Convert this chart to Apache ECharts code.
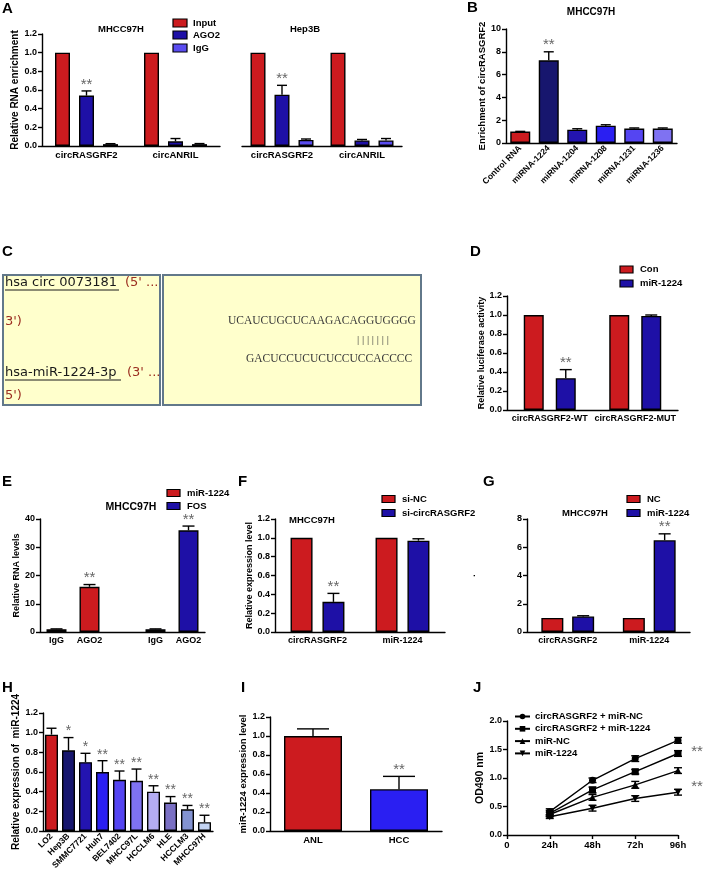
<!DOCTYPE html>
<html><head><meta charset="utf-8">
<script src="https://cdn.jsdelivr.net/npm/echarts@6/dist/echarts.min.js"></script>
<style>html,body{margin:0;padding:0;background:#fff}#c{width:707px;height:876px}</style>
</head><body><div id="c"></div>
<script>
// ================= DATA =================
// Panel A
const aCategories = ['circRASGRF2', 'circANRIL'];
const aGroupNames = ['Input', 'AGO2', 'IgG'];
const aMhccInput = [1.0, 1.0];
const aMhccAgo2 = [0.54, 0.05];
const aMhccIgg = [0.02, 0.02];
const aMhccAgo2Err = [0.05, 0.03];
const aMhccIggErr = [0.005, 0.006];
const aMhccStars = ['**', ''];
const aHepInput = [1.0, 1.0];
const aHepAgo2 = [0.55, 0.06];
const aHepIgg = [0.065, 0.06];
const aHepAgo2Err = [0.10, 0.01];
const aHepIggErr = [0.01, 0.02];
const aHepStars = ['**', ''];
// Panel B
const bCategories = ['Control RNA', 'miRNA-1224', 'miRNA-1204', 'miRNA-1208', 'miRNA-1231', 'miRNA-1236'];
const bValues = [1.0, 7.25, 1.17, 1.52, 1.27, 1.27];
const bErrors = [0.02, 0.75, 0.08, 0.08, 0.05, 0.05];
const bStars = ['', '**', '', '', '', ''];
// Panel C
const cCircName = 'hsa circ 0073181';
const cMirName = 'hsa-miR-1224-3p';
const cCircSeq = 'UCAUCUGCUCAAGACAGGUGGGG';
const cPairs = '| | | | | | |';
const cMirSeq = 'GACUCCUCUCUCCUCCACCCC';
// Panel D
const dCategories = ['circRASGRF2-WT', 'circRASGRF2-MUT'];
const dGroupNames = ['Con', 'miR-1224'];
const dCon = [1.0, 1.0];
const dMir = [0.335, 0.99];
const dMirErr = [0.09, 0.01];
const dStars = ['**', ''];
// Panel E
const eCategories = ['IgG', 'AGO2', '', 'IgG', 'AGO2'];
const eGroupNames = ['miR-1224', 'FOS'];
const eValues = [1.0, 16.0, null, 1.0, 36.0];
const eErrors = [0.1, 0.8, null, 0.1, 1.5];
const eGroupOf = [0, 0, null, 1, 1];
const eStars = ['', '**', '', '', '**'];
// Panel F
const fCategories = ['circRASGRF2', 'miR-1224'];
const fGroupNames = ['si-NC', 'si-circRASGRF2'];
const fSiNC = [1.0, 1.0];
const fSiCirc = [0.32, 0.97];
const fSiCircErr = [0.09, 0.02];
const fStars = ['**', ''];
// Panel G
const gCategories = ['circRASGRF2', 'miR-1224'];
const gGroupNames = ['NC', 'miR-1224'];
const gNC = [1.0, 1.0];
const gMir = [1.1, 6.5];
const gMirErr = [0.05, 0.45];
const gStars = ['', '**'];
// Panel H
const hCategories = ['LO2', 'Hep3B', 'SMMC7721', 'Huh7', 'BEL7402', 'MHCC97L', 'HCCLM6', 'HLE', 'HCCLM3', 'MHCC97H'];
const hValues = [0.98, 0.82, 0.70, 0.60, 0.52, 0.51, 0.40, 0.29, 0.22, 0.09];
const hErrors = [0.065, 0.13, 0.09, 0.115, 0.09, 0.12, 0.06, 0.06, 0.04, 0.07];
const hStars = ['', '*', '*', '**', '**', '**', '**', '**', '**', '**'];
// Panel I
const iCategories = ['ANL', 'HCC'];
const iValues = [1.0, 0.44];
const iErrors = [0.075, 0.135];
const iStars = ['', '**'];
// Panel J
const jTimes = [24, 48, 72, 96];
const jTickLabels = ['0', '24h', '48h', '72h', '96h'];
const jNames = ['circRASGRF2 + miR-NC', 'circRASGRF2 + miR-1224', 'miR-NC', 'miR-1224'];
const jCircNC = [0.41, 0.96, 1.34, 1.66];
const jCircMir = [0.38, 0.79, 1.11, 1.43];
const jMirNC = [0.36, 0.66, 0.88, 1.13];
const jMir = [0.32, 0.47, 0.64, 0.75];
const jCircNCErr = [0.05, 0.04, 0.05, 0.05];
const jCircMirErr = [0.05, 0.05, 0.04, 0.05];
const jMirNCErr = [0.04, 0.05, 0.06, 0.05];
const jMirErr = [0.03, 0.05, 0.05, 0.05];
const jStars = ['**', '**'];

// ================= STYLE =================
const FONT = '"Liberation Sans", Arial, sans-serif';
const RED = '#CC1B1F', DARKBLUE = '#1E10A6', LIGHTBLUE = '#5A4CF0';
const bColors = ['#CC1B1F', '#17166E', '#2314B0', '#2A1FF2', '#5545F2', '#7F72F2'];
const hColors = ['#CC1B1F', '#17166E', '#2314B0', '#2A1FF2', '#5545F2', '#7F72F2', '#B4ACF2', '#7A70C4', '#8393D2', '#C3D3F2'];
const eColors = [RED, DARKBLUE];
const iColors = [RED, '#2A1FF2'];
const AX = {color: '#000', width: 1.4};

const grids = [], xAxes = [], yAxes = [], series = [], graphics = [];

function fmt1(v) { return v.toFixed(1); }

function addPanel(p) {
  const gi = grids.length;
  grids.push({left: p.left, top: p.top, width: p.width, height: p.height});
  if (p.xValue) {
    xAxes.push({gridIndex: gi, type: 'value', min: p.xMin, max: p.xMax, interval: p.xInterval,
      axisLine: {lineStyle: AX}, axisTick: {length: 4, lineStyle: AX}, splitLine: {show: false},
      axisLabel: {color: '#000', fontFamily: FONT, fontWeight: 'bold', fontSize: p.xLabelSize || 9.5, margin: 5, formatter: p.xFormatter}});
  } else {
    xAxes.push({gridIndex: gi, type: 'category', data: p.cats,
      axisLine: {lineStyle: AX},
      axisTick: {alignWithLabel: true, length: 4, lineStyle: AX, interval: p.tickInterval || 0},
      axisLabel: {color: '#000', fontFamily: FONT, fontWeight: 'bold', fontSize: p.xLabelSize || 9.5, margin: 4, rotate: p.rotate || 0, interval: 0},
      splitLine: {show: false}});
  }
  yAxes.push({gridIndex: gi, type: 'value', min: 0, max: p.yMax, interval: p.yInterval, show: p.showY !== false,
    name: p.yName || '', nameLocation: 'middle', nameGap: p.yNameGap || 24, nameRotate: 90,
    nameTextStyle: {color: '#000', fontFamily: FONT, fontWeight: 'bold', fontSize: p.yNameSize || 9.5},
    axisLine: {show: true, lineStyle: AX}, axisTick: {show: true, length: 4, lineStyle: AX},
    axisLabel: {color: '#000', fontFamily: FONT, fontWeight: 'bold', fontSize: 9, margin: 5, formatter: p.yFormatter},
    splitLine: {show: false}});
  return gi;
}

function offsets(n, w, gapPct) {
  const step = w * (1 + gapPct);
  const sum = n * step - w * gapPct;
  const out = [];
  for (let i = 0; i < n; i++) out.push(-sum / 2 + i * step + w / 2);
  return out;
}

function addBars(gi, name, values, colorFn, barWidth, barGapPct) {
  series.push({type: 'bar', name: name, xAxisIndex: gi, yAxisIndex: gi, silent: true,
    barWidth: barWidth, barGap: (barGapPct * 100) + '%',
    itemStyle: {borderColor: '#000', borderWidth: 1.4},
    data: values.map((v, i) => v == null ? null : {value: v, itemStyle: {color: colorFn(i)}})});
}

function addErr(gi, values, errs, offsetPx, capHalf, stars, starSize) {
  series.push({type: 'custom', xAxisIndex: gi, yAxisIndex: gi, silent: true, z: 5,
    data: values.map((v, i) => [i, v == null ? NaN : v, errs && errs[i] != null ? errs[i] : 0]),
    renderItem: function (params, api) {
      const i = api.value(0), v = api.value(1), e = api.value(2);
      if (isNaN(v)) return null;
      const base = api.coord([i, v]);
      const top = api.coord([i, v + e]);
      const x = base[0] + offsetPx;
      const children = [];
      if (e > 0) {
        children.push({type: 'line', shape: {x1: x, y1: base[1], x2: x, y2: top[1]}, style: {stroke: '#000', lineWidth: 1.4}});
        children.push({type: 'line', shape: {x1: x - capHalf, y1: top[1], x2: x + capHalf, y2: top[1]}, style: {stroke: '#000', lineWidth: 1.4}});
      }
      const s = stars && stars[params.dataIndex];
      if (s) {
        children.push({type: 'text', style: {x: x, y: top[1] + 1, text: s, fill: '#666',
          font: (starSize || 15) + 'px ' + FONT, textAlign: 'center', align: 'center', textVerticalAlign: 'bottom', verticalAlign: 'bottom'}});
      }
      return {type: 'group', children: children};
    }});
}

function gText(x, y, text, size, opt) {
  opt = opt || {};
  graphics.push({type: 'text', z: 10, x: x, y: y, style: {text: text, fill: opt.fill || '#000',
    font: (opt.weight || 'bold') + ' ' + size + 'px ' + (opt.family || FONT),
    textAlign: opt.align || 'left', align: opt.align || 'left', textVerticalAlign: 'middle', verticalAlign: 'middle'}});
}
function gRect(x, y, w, h, fill, stroke, lw) {
  graphics.push({type: 'rect', z: 9, shape: {x: x, y: y, width: w, height: h}, style: {fill: fill, stroke: stroke || '#000', lineWidth: lw == null ? 1.2 : lw}});
}
function gLine(x1, y1, x2, y2, stroke, lw) {
  graphics.push({type: 'line', z: 10, shape: {x1: x1, y1: y1, x2: x2, y2: y2}, style: {stroke: stroke, lineWidth: lw}});
}
function legendBox(x, yCenter, color, label, size) {
  gRect(x, yCenter - 3.5, 13, 7, color, '#000', 1.2);
  gText(x + 20, yCenter, label, size || 9.5);
}

// ================= PANEL LABELS =================
[['A', 2, 9], ['B', 467, 8], ['C', 2, 252], ['D', 470, 252], ['E', 2, 482], ['F', 238, 482], ['G', 483, 482], ['H', 2, 688], ['I', 241, 688], ['J', 473, 688]]
  .forEach(l => gText(l[1], l[2], l[0], 15));

// ================= PANEL A =================
const aW = 15, aGap = 0.6, aOff = offsets(3, aW, aGap);
const aColors = [RED, DARKBLUE, LIGHTBLUE];
const gA1 = addPanel({left: 42, top: 34, width: 178, height: 112, cats: aCategories, yMax: 1.2, yInterval: 0.2,
  yName: 'Relative RNA enrichment', yNameGap: 15, yNameSize: 10, yFormatter: fmt1});
[aMhccInput, aMhccAgo2, aMhccIgg].forEach((vals, k) => addBars(gA1, 'A1 ' + aGroupNames[k], vals, () => aColors[k], aW, aGap));
addErr(gA1, aMhccAgo2, aMhccAgo2Err, aOff[1], 5, aMhccStars);
addErr(gA1, aMhccIgg, aMhccIggErr, aOff[2], 5, null);
const gA2 = addPanel({left: 242, top: 34, width: 160, height: 112, cats: aCategories, yMax: 1.2, yInterval: 0.2, showY: false});
[aHepInput, aHepAgo2, aHepIgg].forEach((vals, k) => addBars(gA2, 'A2 ' + aGroupNames[k], vals, () => aColors[k], aW, aGap));
addErr(gA2, aHepAgo2, aHepAgo2Err, aOff[1], 5, aHepStars);
addErr(gA2, aHepIgg, aHepIggErr, aOff[2], 5, null);
gText(121, 29, 'MHCC97H', 9.5, {align: 'center'});
gText(305, 29, 'Hep3B', 9.5, {align: 'center'});
aGroupNames.forEach((n, k) => { gRect(173, [23, 35, 48][k] - 4, 14, 8, aColors[k], '#000', 1.2); gText(193, [23, 35, 48][k], n, 9.5); });

// ================= PANEL B =================
const gB = addPanel({left: 506, top: 29, width: 171, height: 114, cats: bCategories, yMax: 10, yInterval: 2,
  yName: 'Enrichment of circRASGRF2', yNameGap: 14, yNameSize: 9.5, rotate: 45, xLabelSize: 8.5});
addBars(gB, 'B', bValues, i => bColors[i], 20, 0);
addErr(gB, bValues, bErrors, 0, 5, bStars);
gText(591, 12, 'MHCC97H', 10, {align: 'center'});

// ================= PANEL C =================
gRect(3, 275, 157, 130, '#FFFFCC', '#62788A', 2);
gRect(163, 275, 258, 130, '#FFFFCC', '#62788A', 2);
const cFont = '"DejaVu Sans", Verdana, sans-serif';
gText(5, 283, cCircName, 13, {weight: 'normal', family: cFont, fill: '#1a1a1a'});
gLine(5, 290, 119, 290, '#1a1a1a', 1);
gText(125, 283, "(5' ...", 13, {weight: 'normal', family: cFont, fill: '#9B2D20'});
gText(5, 322, "3')", 13, {weight: 'normal', family: cFont, fill: '#9B2D20'});
gText(5, 373, cMirName, 13, {weight: 'normal', family: cFont, fill: '#1a1a1a'});
gLine(5, 380, 121, 380, '#1a1a1a', 1);
gText(127, 373, "(3' ...", 13, {weight: 'normal', family: cFont, fill: '#9B2D20'});
gText(5, 396, "5')", 13, {weight: 'normal', family: cFont, fill: '#9B2D20'});
const sFont = '"Liberation Serif", "Times New Roman", serif';
gText(228, 321, cCircSeq, 11.5, {weight: 'normal', family: sFont, fill: '#3a3a3a'});
gText(357, 340, cPairs, 11, {weight: 'normal', family: sFont, fill: '#3a3a3a'});
gText(246, 359, cMirSeq, 11.5, {weight: 'normal', family: sFont, fill: '#3a3a3a'});

// ================= PANEL D =================
const dW = 20, dGap = 0.6, dOff = offsets(2, dW, dGap);
const gD = addPanel({left: 507, top: 296, width: 171, height: 114, cats: dCategories, yMax: 1.2, yInterval: 0.2,
  yName: 'Relative luciferase activity', yNameGap: 17, yNameSize: 9, yFormatter: fmt1, xLabelSize: 9});
addBars(gD, 'D Con', dCon, () => RED, dW, dGap);
addBars(gD, 'D miR', dMir, () => DARKBLUE, dW, dGap);
addErr(gD, dMir, dMirErr, dOff[1], 6, dStars);
legendBox(620, 269.5, RED, dGroupNames[0]);
legendBox(620, 283.5, DARKBLUE, dGroupNames[1]);

// ================= PANEL E =================
const gE = addPanel({left: 40, top: 519, width: 165, height: 113, cats: eCategories, yMax: 40, yInterval: 10,
  yName: 'Relative RNA levels', yNameGap: 16, yNameSize: 9, xLabelSize: 9,
  tickInterval: (idx, val) => val !== ''});
addBars(gE, 'E', eValues, i => eColors[eGroupOf[i]], 20, 0);
addErr(gE, eValues, eErrors, 0, 6, eStars);
gText(131, 507, 'MHCC97H', 10.5, {align: 'center'});
legendBox(167, 493, RED, eGroupNames[0]);
legendBox(167, 506, DARKBLUE, eGroupNames[1]);

// ================= PANEL F =================
const fW = 22, fGap = 0.45, fOff = offsets(2, fW, fGap);
const gF = addPanel({left: 275, top: 519, width: 170, height: 113, cats: fCategories, yMax: 1.2, yInterval: 0.2,
  yName: 'Relative expression level', yNameGap: 17, yNameSize: 9, yFormatter: fmt1, xLabelSize: 9});
addBars(gF, 'F NC', fSiNC, () => RED, fW, fGap);
addBars(gF, 'F si', fSiCirc, () => DARKBLUE, fW, fGap);
addErr(gF, fSiCirc, fSiCircErr, fOff[1], 6, fStars);
gText(312, 520, 'MHCC97H', 9.5, {align: 'center'});
legendBox(382, 499, RED, fGroupNames[0]);
legendBox(382, 513, DARKBLUE, fGroupNames[1]);

// ================= PANEL G =================
const gW = 22, gGap = 0.4, gOff = offsets(2, gW, gGap);
const gG = addPanel({left: 527, top: 519, width: 163, height: 113, cats: gCategories, yMax: 8, yInterval: 2,
  yName: '.', yNameGap: 50, yNameSize: 9, xLabelSize: 9});
addBars(gG, 'G NC', gNC, () => RED, gW, gGap);
addBars(gG, 'G miR', gMir, () => DARKBLUE, gW, gGap);
addErr(gG, gMir, gMirErr, gOff[1], 6, gStars);
gText(585, 513, 'MHCC97H', 9.5, {align: 'center'});
legendBox(627, 499, RED, gGroupNames[0]);
legendBox(627, 513, DARKBLUE, gGroupNames[1]);

// ================= PANEL H =================
const gH = addPanel({left: 43, top: 713, width: 170, height: 118, cats: hCategories, yMax: 1.2, yInterval: 0.2,
  yName: 'Relative expression of  miR-1224', yNameGap: 17, yNameSize: 10, yFormatter: fmt1, rotate: 45, xLabelSize: 8.5});
addBars(gH, 'H', hValues, i => hColors[i], 13, 0);
addErr(gH, hValues, hErrors, 0, 5, hStars, 14);

// ================= PANEL I =================
const gI = addPanel({left: 270, top: 717, width: 172, height: 114, cats: iCategories, yMax: 1.2, yInterval: 0.2,
  yName: 'miR-1224 expression level', yNameGap: 16, yNameSize: 9.5, yFormatter: fmt1, xLabelSize: 9.5});
addBars(gI, 'I', iValues, i => iColors[i], 58, 0);
addErr(gI, iValues, iErrors, 0, 16, iStars);

// ================= PANEL J =================
const gJ = addPanel({left: 507, top: 721, width: 171, height: 114, xValue: true, xMin: 0, xMax: 96, xInterval: 24,
  xFormatter: (v) => jTickLabels[Math.round(v / 24)], yMax: 2.0, yInterval: 0.5,
  yName: 'OD490 nm', yNameGap: 19, yNameSize: 10.5, yFormatter: fmt1});
const jSeries = [jCircNC, jCircMir, jMirNC, jMir];
const jErrs = [jCircNCErr, jCircMirErr, jMirNCErr, jMirErr];
const jSymbols = [['circle', 0], ['rect', 0], ['triangle', 0], ['triangle', 180]];
jSeries.forEach((vals, k) => {
  series.push({type: 'line', name: jNames[k], xAxisIndex: gJ, yAxisIndex: gJ, silent: true,
    data: jTimes.map((t, i) => [t, vals[i]]), symbol: jSymbols[k][0], symbolRotate: jSymbols[k][1],
    symbolSize: 7, lineStyle: {color: '#000', width: 1.4}, itemStyle: {color: '#000'}, z: 4});
  series.push({type: 'custom', xAxisIndex: gJ, yAxisIndex: gJ, silent: true, z: 3,
    data: jTimes.map((t, i) => [t, vals[i], jErrs[k][i]]),
    renderItem: function (params, api) {
      const lo = api.coord([api.value(0), api.value(1) - api.value(2)]);
      const hi = api.coord([api.value(0), api.value(1) + api.value(2)]);
      const st = {stroke: '#000', lineWidth: 1.4};
      return {type: 'group', children: [
        {type: 'line', shape: {x1: lo[0], y1: lo[1], x2: hi[0], y2: hi[1]}, style: st},
        {type: 'line', shape: {x1: lo[0] - 4, y1: lo[1], x2: lo[0] + 4, y2: lo[1]}, style: st},
        {type: 'line', shape: {x1: hi[0] - 4, y1: hi[1], x2: hi[0] + 4, y2: hi[1]}, style: st}]};
    }});
});
const jLast = jTimes.length - 1;
const jStarPoints = [[jTimes[jLast], (jCircNC[jLast] + jCircMir[jLast]) / 2], [jTimes[jLast], (jMirNC[jLast] + jMir[jLast]) / 2]];
series.push({type: 'custom', xAxisIndex: gJ, yAxisIndex: gJ, silent: true, z: 6, data: jStarPoints,
  renderItem: function (params, api) {
    const p = api.coord([api.value(0), api.value(1)]);
    return {type: 'text', style: {x: p[0] + 19, y: p[1] + 5, text: jStars[params.dataIndex], fill: '#666',
      font: '15px ' + FONT, textAlign: 'center', align: 'center', textVerticalAlign: 'middle', verticalAlign: 'middle'}};
  }});

// ================= CHART =================
const chart = echarts.init(document.getElementById('c'), null, {renderer: 'canvas'});
chart.setOption({
  animation: false,
  backgroundColor: '#fff',
  textStyle: {fontFamily: FONT},
  legend: [{data: jNames, left: 514, top: 711, orient: 'vertical', itemWidth: 15, itemHeight: 7, itemGap: 1.3,
    selectedMode: false, padding: 0,
    textStyle: {color: '#000', fontFamily: FONT, fontWeight: 'bold', fontSize: 9.5, lineHeight: 11}}],
  grid: grids, xAxis: xAxes, yAxis: yAxes, series: series, graphic: graphics
});
</script></body></html>
